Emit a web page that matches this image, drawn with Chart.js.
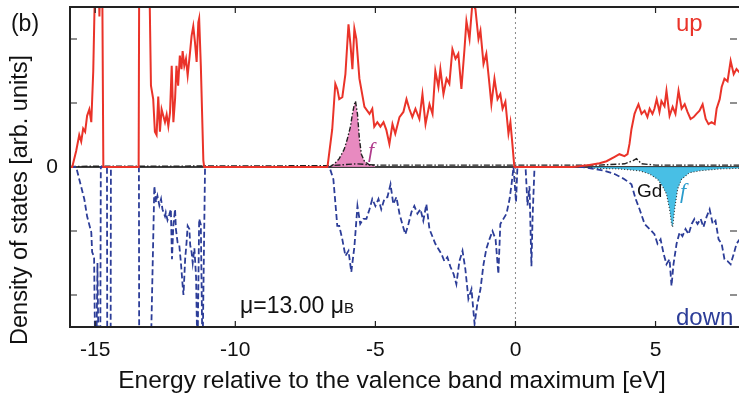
<!DOCTYPE html>
<html>
<head>
<meta charset="utf-8">
<script src="https://cdn.jsdelivr.net/npm/chart.js@4/dist/chart.umd.min.js"></script>
<style>
  html, body { margin: 0; padding: 0; background: #fff; overflow: hidden; }
  #wrap { width: 739px; height: 398px; overflow: hidden; }
</style>
</head>
<body>
<div id="wrap"><canvas id="dos" width="745" height="398"></canvas></div>
<script>
// energies in eV, DOS in arb. units (values beyond +-2.5 run off the frame)
var upE = [-15.9, -15.82, -15.68, -15.57, -15.5, -15.43, -15.36, -15.29, -15.21, -15.14, -15.07, -15.0, -14.88, -14.85, -14.82, -14.75, -14.71,
  -13.45, -13.43, -13.07, -13.01, -12.93, -12.87, -12.81, -12.75, -12.69, -12.63, -12.57, -12.51, -12.45, -12.39, -12.33, -12.27, -12.21,
  -12.15, -12.1, -12.04, -11.98, -11.92, -11.88, -11.82, -11.76, -11.7, -11.62, -11.56, -11.5, -11.44, -11.38, -11.32, -11.29, -11.23, -11.14, -11.11,
  -6.71, -6.54, -6.43, -6.36, -6.29, -6.18, -6.07, -5.96, -5.89, -5.82, -5.75, -5.68, -5.57, -5.39, -5.21, -5.11, -5.04, -4.93, -4.82, -4.71,
  -4.61, -4.5, -4.39, -4.29, -4.14, -4.0, -3.89, -3.79, -3.68, -3.57, -3.43, -3.32, -3.21, -3.07, -2.96, -2.86, -2.75, -2.68, -2.57, -2.46,
  -2.36, -2.25, -2.14, -2.04, -1.93, -1.82, -1.75, -1.64, -1.54, -1.43, -1.32, -1.25, -1.14, -1.04, -0.93, -0.86, -0.75, -0.64, -0.54, -0.46,
  -0.36, -0.25, -0.18, -0.11, -0.04,
  2.04, 2.64, 3.0, 3.25, 3.54, 3.71, 3.89, 4.0, 4.07, 4.14, 4.25, 4.32, 4.39, 4.5, 4.61, 4.71, 4.79, 4.89, 4.96, 5.04, 5.14, 5.21, 5.32, 5.39,
  5.5, 5.61, 5.71, 5.82, 5.93, 6.04, 6.14, 6.25, 6.36, 6.46, 6.57, 6.68, 6.79, 6.89, 7.0, 7.11, 7.18, 7.29, 7.36, 7.46, 7.57, 7.68, 7.79, 7.89, 8.05];
var upDos = [0, 0, 0.25, 0.5, 0.4, 0.6, 0.55, 0.8, 0.9, 0.7, 1.5, 3, 3, 2.35, 3, 3, 0,
  0, 3, 3, 1.27, 1.06, 0.55, 0.5, 1.1, 0.55, 0.9, 0.8, 0.7, 0.82, 0.64, 0.85, 1.58, 0.7,
  1.06, 1.58, 1.27, 1.74, 1.53, 1.81, 1.58, 1.69, 1.43, 1.77, 2.05, 2.2, 1.95, 1.64, 2.26, 2.32, 1.58, 0.1, 0,
  0, 0.59, 1.3, 1.22, 1.06, 1.09, 1.45, 2.23, 1.92, 1.53, 2.16, 2.0, 1.38, 0.94, 0.83, 0.91, 0.63, 0.7, 0.63, 0.7,
  0.58, 0.36, 0.67, 0.52, 0.78, 0.86, 1.06, 0.91, 0.78, 0.91, 0.75, 1.14, 0.67, 0.98, 0.83, 1.5, 1.25, 1.53, 1.14, 1.38,
  1.3, 1.84, 1.69, 1.77, 1.22, 1.84, 2.28, 2.0, 2.55, 2.47, 2.0, 2.13, 1.61, 1.77, 1.3, 0.98, 1.38, 1.06, 1.14, 0.91,
  1.02, 0.52, 0.7, 0.36, 0,
  0, 0.03, 0.06, 0.09, 0.16, 0.2, 0.17, 0.2, 0.36, 0.59, 0.83, 0.91, 0.98, 0.83, 0.88, 0.78, 0.91, 0.83, 0.91, 1.06, 0.86, 1.03, 0.95, 1.19,
  0.8, 0.94, 0.83, 1.19, 0.91, 0.98, 0.86, 0.75, 0.78, 0.83, 0.88, 0.98, 0.75, 0.67, 0.7, 0.67, 0.91, 1.06, 1.25, 1.38, 1.34, 1.66, 1.45, 1.53, 1.45];

var downE = [-15.9, -15.68, -15.57, -15.39, -15.29, -15.14, -15.11, -15.04, -15.0, -14.96, -14.92, -14.88, -14.82, -14.8, -14.58, -14.57, -14.45, -14.44,
  -13.44, -13.43, -13.02, -12.89, -12.83, -12.78, -12.71, -12.65, -12.6, -12.51, -12.48, -12.42, -12.36, -12.3, -12.26, -12.21, -12.15, -12.12,
  -12.06, -12.0, -11.94, -11.88, -11.85, -11.79, -11.74, -11.7, -11.64, -11.61, -11.56, -11.52, -11.46, -11.4, -11.35, -11.29, -11.23, -11.17, -11.08,
  -6.64, -6.5, -6.43, -6.36, -6.29, -6.18, -6.07, -5.96, -5.86, -5.75, -5.64, -5.54, -5.43, -5.32, -5.21, -5.11, -5.0, -4.89, -4.79, -4.68,
  -4.57, -4.46, -4.36, -4.25, -4.14, -4.04, -3.93, -3.82, -3.71, -3.61, -3.5, -3.39, -3.29, -3.18, -3.07, -2.96, -2.86, -2.75, -2.64, -2.54,
  -2.43, -2.32, -2.21, -2.11, -2.0, -1.89, -1.79, -1.68, -1.57, -1.46, -1.36, -1.25, -1.14, -1.04, -0.93, -0.82, -0.71, -0.61, -0.54, -0.43,
  -0.32, -0.21, -0.14, -0.07, 0.02, 0.07, 0.36, 0.43, 0.5, 0.57, 0.61, 0.68,
  2.39, 2.82, 3.18, 3.54, 3.89, 4.14, 4.29, 4.43, 4.61, 4.79, 4.96, 5.07, 5.18, 5.29, 5.39, 5.5, 5.57, 5.64, 5.75, 5.86, 5.96, 6.07, 6.18,
  6.29, 6.39, 6.5, 6.61, 6.71, 6.82, 6.93, 7.04, 7.14, 7.25, 7.36, 7.46, 7.57, 7.68, 7.79, 7.89, 8.05];
var downDos = [0, 0, -0.19, -0.5, -0.77, -1.02, -1.33, -1.4, -3, -3, -1.5, -3, -3, 0, 0, -3, -3, 0,
  0, -3, -3, -0.3, -0.55, -0.45, -0.6, -0.5, -0.66, -0.77, -0.71, -0.83, -0.75, -0.66, -1.44, -0.9, -0.66, -0.97,
  -1.18, -1.22, -1.5, -1.85, -2.0, -1.44, -1.18, -0.92, -0.97, -1.22, -1.33, -1.5, -1.27, -1.72, -3, -0.81, -0.9, -3, 0,
  0, -0.19, -0.55, -0.92, -0.92, -1.13, -1.39, -1.31, -1.64, -1.25, -0.61, -0.89, -0.81, -0.81, -0.66, -0.5, -0.61, -0.5, -0.66, -0.5,
  -0.47, -0.27, -0.58, -0.47, -0.73, -0.89, -1.05, -0.89, -0.7, -0.61, -0.73, -0.66, -0.84, -0.58, -0.97, -1.09, -1.2, -1.28, -1.36, -1.47,
  -1.41, -1.56, -1.67, -1.83, -1.47, -1.31, -1.59, -2.06, -1.91, -2.45, -2.14, -1.91, -1.52, -1.28, -1.13, -1.0, -1.13, -1.67, -0.89, -0.81,
  -0.73, -0.5, -0.27, 0, -0.55, 0, 0, -0.6, -0.3, -1.55, -0.8, 0,
  0, -0.03, -0.06, -0.11, -0.19, -0.27, -0.5, -0.66, -0.89, -0.97, -1.05, -1.2, -1.13, -1.36, -1.52, -1.44, -1.86, -1.52, -1.2, -1.02, -1.08, -0.97, -1.05,
  -0.89, -0.81, -0.89, -0.81, -0.94, -0.78, -0.66, -0.89, -0.84, -1.13, -1.2, -1.44, -1.47, -1.52, -1.36, -1.2, -1.1];

// Gd f states: spin up (occupied) and spin down (empty)
var fUpE = [-6.64, -6.46, -6.29, -6.11, -6.0, -5.89, -5.82, -5.75, -5.71, -5.64, -5.57, -5.5, -5.39, -5.21, -5.0];
var fUpDos = [0, 0.05, 0.13, 0.28, 0.44, 0.63, 0.83, 0.98, 1.03, 0.83, 0.44, 0.2, 0.09, 0.03, 0.02];
var fDownE = [2.6, 2.82, 3.71, 4.43, 4.79, 5.07, 5.25, 5.39, 5.5, 5.57, 5.61, 5.68, 5.79, 5.93, 6.21, 6.57, 7.29, 8.05];
var fDownDos = [0, -0.02, -0.03, -0.06, -0.11, -0.19, -0.3, -0.42, -0.66, -0.89, -0.94, -0.66, -0.34, -0.19, -0.09, -0.06, -0.03, -0.02];

// Gd total (dash-dot)
var gdE = [-15.9, -6.6, -5.7, -5.0, 0, 3.0, 3.9, 4.2, 4.32, 4.5, 5.0, 8.05];
var gdDos = [0.01, 0.02, 0.05, 0.03, 0.03, 0.03, 0.05, 0.1, 0.13, 0.05, 0.03, 0.03];

var xTicks = [-15, -10, -5, 0, 5];
var yTicks = [-2, -1, 0, 1, 2];

var RED = '#ea3329';
var BLUE = '#2c3d98';
var FONT = "'Liberation Sans', Arial, sans-serif";

function pts(xs, ys) {
  return xs.map(function (v, i) { return { x: v, y: ys[i] }; });
}

var decor = {
  id: 'decor',
  beforeDatasetsDraw: function (chart) {
    var ctx = chart.ctx, a = chart.chartArea;
    var y0 = chart.scales.y.getPixelForValue(0);
    var x0 = chart.scales.x.getPixelForValue(0);
    ctx.save();
    ctx.strokeStyle = '#000';
    ctx.lineWidth = 1.5;
    ctx.beginPath(); ctx.moveTo(a.left, y0); ctx.lineTo(a.right, y0); ctx.stroke();
    ctx.strokeStyle = '#888';
    ctx.lineWidth = 1;
    ctx.setLineDash([2, 3]);
    ctx.beginPath(); ctx.moveTo(x0, a.top); ctx.lineTo(x0, a.bottom); ctx.stroke();
    ctx.restore();
  },
  afterDraw: function (chart) {
    var ctx = chart.ctx, a = chart.chartArea;
    var sx = chart.scales.x, sy = chart.scales.y;
    ctx.save();
    ctx.strokeStyle = '#222';
    ctx.lineWidth = 2;
    ctx.strokeRect(a.left, a.top, a.right - a.left, a.bottom - a.top);
    ctx.lineWidth = 1.2;
    ctx.beginPath();
    xTicks.forEach(function (v) {
      var px = sx.getPixelForValue(v);
      ctx.moveTo(px, a.bottom); ctx.lineTo(px, a.bottom - 6);
      ctx.moveTo(px, a.top); ctx.lineTo(px, a.top + 6);
    });
    yTicks.forEach(function (v) {
      if (v === 0) return;
      var py = sy.getPixelForValue(v);
      ctx.moveTo(a.left, py); ctx.lineTo(a.left + 7, py);
      ctx.moveTo(737, py); ctx.lineTo(730, py);
    });
    ctx.stroke();

    ctx.fillStyle = '#111';
    ctx.textBaseline = 'middle';
    ctx.textAlign = 'center';
    ctx.font = '23px ' + FONT;
    ctx.fillText('(b)', 25, 25);
    ctx.font = '24.5px ' + FONT;
    ctx.fillText('Energy relative to the valence band maximum [eV]', 392, 381);
    ctx.save();
    ctx.translate(21, 200);
    ctx.rotate(-Math.PI / 2);
    ctx.font = '23.5px ' + FONT;
    ctx.fillText('Density of states [arb. units]', 0, 0);
    ctx.restore();

    ctx.textAlign = 'left';
    ctx.textBaseline = 'alphabetic';
    ctx.font = '24px ' + FONT;
    ctx.fillStyle = RED;
    ctx.fillText('up', 676, 31);
    ctx.fillStyle = BLUE;
    ctx.fillText('down', 676, 325);

    ctx.fillStyle = '#111';
    ctx.font = '23px ' + FONT;
    var t = '\u03bc=13.00 \u03bc';
    ctx.fillText(t, 240, 313);
    var w = ctx.measureText(t).width;
    ctx.font = '15px ' + FONT;
    ctx.fillText('B', 240 + w, 313);

    ctx.font = '19px ' + FONT;
    ctx.fillText('Gd', 637, 197);

    ctx.font = "italic 22px 'Liberation Serif', serif";
    ctx.fillStyle = '#b03c8c';
    ctx.fillText('f', 368, 157);
    ctx.fillStyle = '#2a9ccc';
    ctx.fillText('f', 680, 198);
    ctx.restore();
  }
};

new Chart(document.getElementById('dos'), {
  type: 'scatter',
  data: {
    datasets: [
      { data: pts(upE, upDos), borderColor: RED, borderWidth: 2, order: 1 },
      { data: pts(downE, downDos), borderColor: BLUE, borderWidth: 1.8, borderDash: [6, 3], order: 2 },
      { data: pts(gdE, gdDos), borderColor: '#222', borderWidth: 1.4, borderDash: [6, 2, 1.5, 2], order: 3 },
      { data: pts(fUpE, fUpDos), borderColor: '#222', borderWidth: 1.4, borderDash: [5, 2, 1.5, 2],
        backgroundColor: 'rgba(230,125,185,0.9)', fill: 'origin', order: 4 },
      { data: pts(fDownE, fDownDos), borderColor: '#333', borderWidth: 1.1, borderDash: [1, 2],
        backgroundColor: 'rgba(52,184,226,0.9)', fill: 'origin', order: 5 }
    ]
  },
  options: {
    responsive: false,
    animation: false,
    showLine: true,
    layout: { padding: { top: 7, right: 4, bottom: 0, left: 0 } },
    elements: { point: { radius: 0 }, line: { tension: 0 } },
    plugins: { legend: { display: false }, tooltip: { enabled: false } },
    scales: {
      x: {
        type: 'linear', min: -15.9, max: 8.05,
        grid: { display: false, drawTicks: false },
        border: { display: false },
        afterBuildTicks: function (s) { s.ticks = xTicks.map(function (v) { return { value: v }; }); },
        afterFit: function (s) { s.height = 71; s.paddingLeft = 0; s.paddingRight = 0; },
        ticks: { color: '#111', padding: 11, font: { family: FONT, size: 21 }, maxRotation: 0,
                 callback: function (v) { return String(v); } }
      },
      y: {
        type: 'linear', min: -2.5, max: 2.5,
        grid: { display: false, drawTicks: false },
        border: { display: false },
        afterBuildTicks: function (s) { s.ticks = yTicks.map(function (v) { return { value: v }; }); },
        afterFit: function (s) { s.width = 70; s.paddingTop = 0; s.paddingBottom = 0; },
        ticks: { color: '#111', padding: 12, font: { family: FONT, size: 21 },
                 callback: function (v) { return v === 0 ? '0' : ''; } }
      }
    }
  },
  plugins: [decor]
});
</script>
</body>
</html>
